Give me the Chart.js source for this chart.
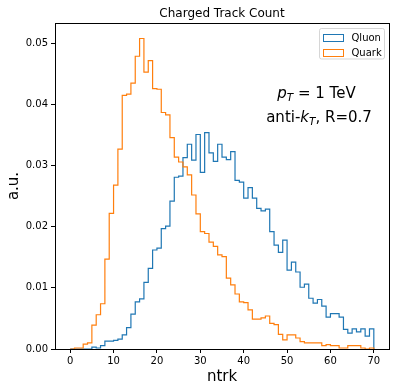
<!DOCTYPE html>
<html lang="en">
<head>
    <meta charset="UTF-8">
    <title>Charged Track Count</title>
    <script src="https://cdn.jsdelivr.net/npm/chart.js"></script>
    <style>
        body {
            margin: 0;
            padding: 0;
            background-color: #fff;
        }
        #wrap {
            width: 400px;
            height: 392px;
        }
    </style>
</head>
<body>
<div id="wrap">
    <canvas id="chart" width="400" height="392"></canvas>
</div>
<script>
    // Histogram bins: unit-width bins from 0 to 70 (edges)
    const binEdges = Array.from({ length: 71 }, (_, i) => i);

    // Normalised counts per bin
    const gluonValues = [
        0, 0, 0, 0, 0, 0.0003, 0.00016, 0.00054, 0.0013, 0.0013,
        0.0014, 0.0016, 0.0023, 0.0035, 0.0057, 0.0077, 0.0082, 0.0109, 0.0132, 0.0162,
        0.0165, 0.0197, 0.0201, 0.0242, 0.0281, 0.0283, 0.0313, 0.0335, 0.0309, 0.0351,
        0.0289, 0.0354, 0.0321, 0.0307, 0.0335, 0.0314, 0.0310, 0.0323, 0.0276, 0.0273,
        0.0247, 0.0264, 0.0247, 0.0230, 0.0226, 0.0229, 0.0192, 0.0170, 0.0158, 0.0178,
        0.0129, 0.0142, 0.0126, 0.0101, 0.0106, 0.0083, 0.0075, 0.0081, 0.0070, 0.0052,
        0.0058, 0.0058, 0.0052, 0.0032, 0.0026, 0.0033, 0.0028, 0.0033, 0.0021, 0.0033
    ];
    const quarkValues = [
        0, 0.00016, 0.00016, 0.0008, 0.001, 0.0039, 0.0056, 0.0074, 0.0147, 0.0222,
        0.0268, 0.0327, 0.0415, 0.0417, 0.0435, 0.0479, 0.0508, 0.0453, 0.0472, 0.0426,
        0.0425, 0.0387, 0.0383, 0.0346, 0.0314, 0.0306, 0.0298, 0.0285, 0.0252, 0.0221,
        0.0192, 0.0189, 0.0175, 0.0168, 0.0154, 0.0151, 0.0116, 0.0105, 0.0090, 0.0077,
        0.0076, 0.0064, 0.0049, 0.0049, 0.0051, 0.0054, 0.0042, 0.0040, 0.0024, 0.0015,
        0.0023, 0.0023, 0.0018, 0.0012, 0.0010, 0.0010, 0.0010, 0.0010, 0.00054, 0.0007,
        0.00054, 0.00054, 0.00016, 0.00016, 0.00054, 0.00054, 0.00054, 0.00016, 0, 0.00016
    ];

    const seriesLabels = ['Qluon', 'Quark'];
    const seriesColors = ['#1f77b4', '#ff7f0e'];

    const xTicks = [0, 10, 20, 30, 40, 50, 60, 70];
    const yTicks = [0, 0.01, 0.02, 0.03, 0.04, 0.05];

    const FONT = "'DejaVu Sans', sans-serif";
    Chart.defaults.font.family = FONT;
    Chart.defaults.font.size = 10;
    Chart.defaults.color = '#000';

    // Turn bin values into points on the left bin edges, closing on the last edge
    function stepPoints(values) {
        const pts = values.map((v, i) => ({ x: binEdges[i], y: v }));
        pts.push({ x: binEdges[binEdges.length - 1], y: 0 });
        return pts;
    }

    // Draw a line of text made of runs (regular / italic / subscript), centred at cx
    function drawRuns(ctx, runs, cx, baseline, size) {
        const fontFor = r => (r.italic ? 'oblique ' : '') + (r.sub ? size * 0.7 : size) + 'px ' + FONT;
        let total = 0;
        runs.forEach(r => {
            ctx.font = fontFor(r);
            r.w = ctx.measureText(r.text).width;
            total += r.w;
        });
        let x = cx - total / 2;
        ctx.textAlign = 'left';
        ctx.textBaseline = 'alphabetic';
        runs.forEach(r => {
            ctx.font = fontFor(r);
            ctx.fillText(r.text, x, baseline + (r.sub ? size * 0.2 : 0));
            x += r.w;
        });
    }

    // Frame, title, legend and the annotation texts
    const decorations = {
        id: 'decorations',
        afterDraw(chart) {
            const ctx = chart.ctx;
            const a = chart.chartArea;
            ctx.save();

            // axes frame
            ctx.strokeStyle = '#000';
            ctx.lineWidth = 1;
            ctx.strokeRect(a.left + 0.5, a.top + 0.5, a.right - a.left, a.bottom - a.top);

            // title
            ctx.fillStyle = '#000';
            ctx.font = '12px ' + FONT;
            ctx.textAlign = 'center';
            ctx.textBaseline = 'alphabetic';
            ctx.fillText('Charged Track Count', (a.left + a.right) / 2, 16.7);

            // legend box
            const lx = 319.5, ly = 28.5, lw = 65, lh = 30.5, r = 2;
            ctx.beginPath();
            ctx.moveTo(lx + r, ly);
            ctx.arcTo(lx + lw, ly, lx + lw, ly + lh, r);
            ctx.arcTo(lx + lw, ly + lh, lx, ly + lh, r);
            ctx.arcTo(lx, ly + lh, lx, ly, r);
            ctx.arcTo(lx, ly, lx + lw, ly, r);
            ctx.closePath();
            ctx.fillStyle = 'rgba(255,255,255,0.8)';
            ctx.fill();
            ctx.strokeStyle = 'rgba(204,204,204,0.8)';
            ctx.stroke();

            const rowY = [37, 52.5];
            seriesLabels.forEach((label, i) => {
                ctx.strokeStyle = seriesColors[i];
                ctx.lineWidth = 1;
                ctx.strokeRect(323.5, Math.round(rowY[i] - 3.5) + 0.5, 20, 7);
                ctx.fillStyle = '#000';
                ctx.font = '10px ' + FONT;
                ctx.textAlign = 'left';
                ctx.textBaseline = 'alphabetic';
                ctx.fillText(label, 351.5, rowY[i] + 3.7);
            });

            // annotations
            ctx.fillStyle = '#000';
            drawRuns(ctx, [
                { text: 'p', italic: true },
                { text: 'T', italic: true, sub: true },
                { text: ' = 1 TeV' }
            ], 316.5, 97.5, 15);
            drawRuns(ctx, [
                { text: 'anti-' },
                { text: 'k', italic: true },
                { text: 'T', italic: true, sub: true },
                { text: ', R=0.7' }
            ], 319, 121.7, 15);

            ctx.restore();
        }
    };

    const yMax = Math.max(...quarkValues, ...gluonValues) * 1.05;

    new Chart(document.getElementById('chart').getContext('2d'), {
        type: 'line',
        data: {
            datasets: [
                {
                    label: seriesLabels[0],
                    data: stepPoints(gluonValues),
                    borderColor: seriesColors[0],
                    order: 1
                },
                {
                    label: seriesLabels[1],
                    data: stepPoints(quarkValues),
                    borderColor: seriesColors[1],
                    order: 0
                }
            ]
        },
        options: {
            responsive: false,
            animation: false,
            devicePixelRatio: 1,
            layout: { padding: { top: 23, right: 11, left: 0, bottom: 0 } },
            elements: {
                line: { stepped: true, borderWidth: 1.2, fill: false, tension: 0 },
                point: { radius: 0, hoverRadius: 0 }
            },
            plugins: {
                legend: { display: false },
                title: { display: false },
                tooltip: { enabled: false }
            },
            scales: {
                x: {
                    type: 'linear',
                    min: -3.5,
                    max: 73.5,
                    afterBuildTicks: s => { s.ticks = xTicks.map(v => ({ value: v })); },
                    afterFit: s => { s.height = 43; },
                    grid: { drawOnChartArea: false, tickLength: 4, tickColor: '#000' },
                    border: { display: false },
                    ticks: {
                        color: '#000',
                        padding: 2,
                        maxRotation: 0,
                        autoSkip: false,
                        callback: v => String(v)
                    },
                    title: {
                        display: true,
                        text: 'ntrk',
                        color: '#000',
                        font: { size: 15 },
                        padding: { top: 0, bottom: 6 }
                    }
                },
                y: {
                    type: 'linear',
                    min: 0,
                    max: yMax,
                    afterBuildTicks: s => { s.ticks = yTicks.map(v => ({ value: v })); },
                    afterFit: s => { s.width = 55; },
                    grid: { drawOnChartArea: false, tickLength: 4, tickColor: '#000' },
                    border: { display: false },
                    ticks: {
                        color: '#000',
                        padding: 3,
                        callback: v => v.toFixed(2)
                    },
                    title: {
                        display: true,
                        text: 'a.u.',
                        color: '#000',
                        font: { size: 15 },
                        padding: { top: 5, bottom: 0 }
                    }
                }
            }
        },
        plugins: [decorations]
    });
</script>
</body>
</html>
